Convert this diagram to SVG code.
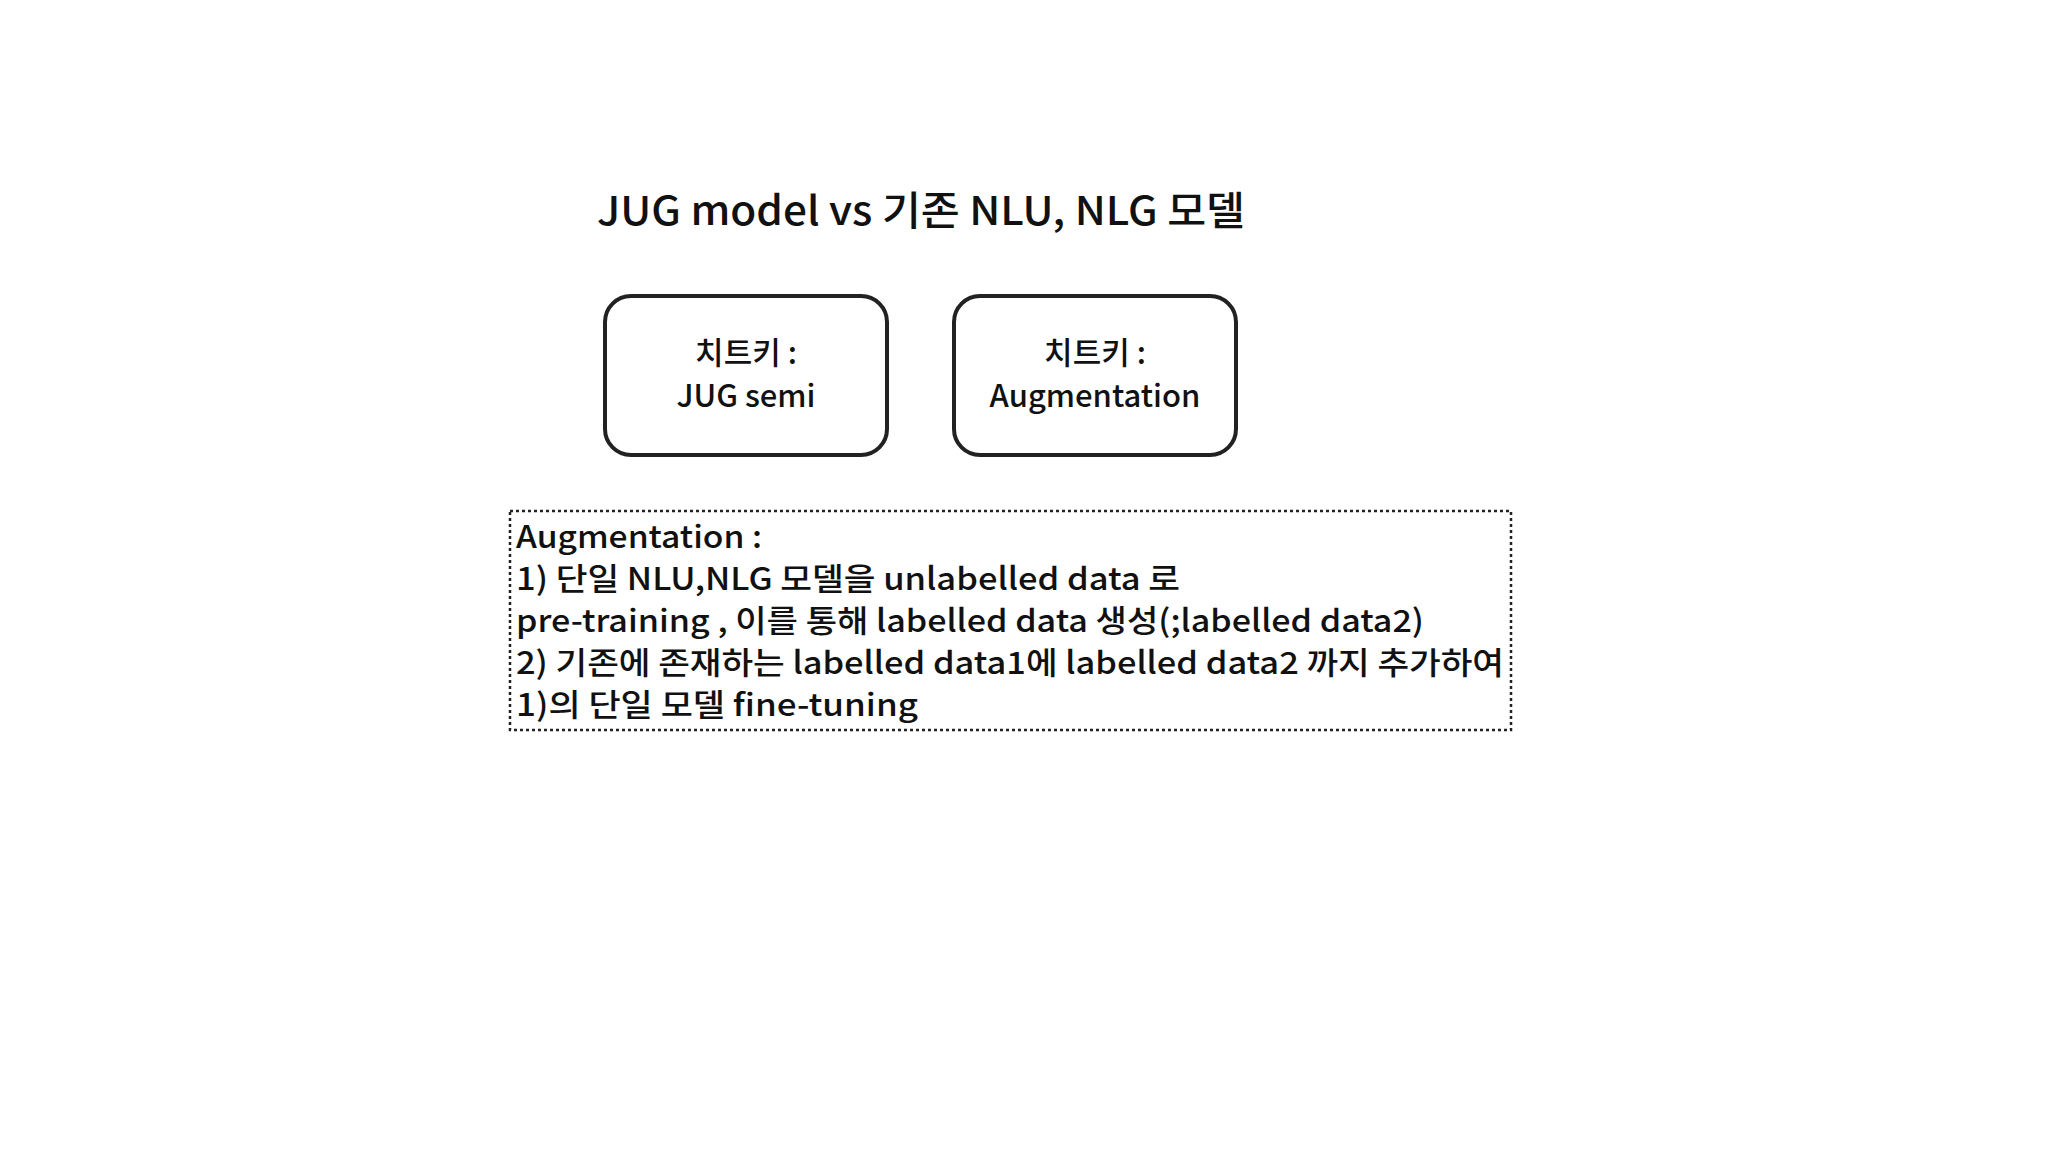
<svg xmlns="http://www.w3.org/2000/svg" width="2048" height="1152" viewBox="0 0 2048 1152">
<style>
text{font-family:"Noto Sans CJK KR","Noto Sans",sans-serif;fill:#111}
.t{font-size:40px;font-weight:500}
.n{font-size:31px;font-weight:500;text-anchor:middle}
.b{font-size:31px;font-weight:500}
.box{fill:none;stroke:#222;stroke-width:4}
</style>
<rect width="2048" height="1152" fill="#fff"/>
<g id="title"><text class="t" x="597" y="225" textLength="648" lengthAdjust="spacingAndGlyphs">JUG model vs 기존 NLU, NLG 모델</text></g>
<g id="node1"><rect class="box" x="605" y="296" width="282" height="159" rx="26"/>
<text class="n" x="746" y="364">치트키 :</text><text class="n" x="746" y="407">JUG semi</text></g>
<g id="node2"><rect class="box" x="954" y="296" width="282" height="159" rx="26"/>
<text class="n" x="1095" y="364">치트키 :</text><text class="n" x="1095" y="407">Augmentation</text></g>
<g id="note"><rect x="510" y="511" width="1001" height="219" fill="none" stroke="#222" stroke-width="2.5" stroke-dasharray="3 3"/>
<text class="b" x="516" y="548" textLength="246" lengthAdjust="spacingAndGlyphs">Augmentation :</text>
<text class="b" x="516" y="590" textLength="664" lengthAdjust="spacingAndGlyphs">1)  단일 NLU,NLG 모델을 unlabelled data 로</text>
<text class="b" x="516" y="632" textLength="908" lengthAdjust="spacingAndGlyphs">pre-training , 이를 통해 labelled data 생성(;labelled data2)</text>
<text class="b" x="516" y="674" textLength="988" lengthAdjust="spacingAndGlyphs">2) 기존에 존재하는 labelled data1에 labelled data2 까지 추가하여</text>
<text class="b" x="516" y="716" textLength="402" lengthAdjust="spacingAndGlyphs">1)의 단일 모델 fine-tuning</text></g>
<g id="connectors"/>
</svg>
